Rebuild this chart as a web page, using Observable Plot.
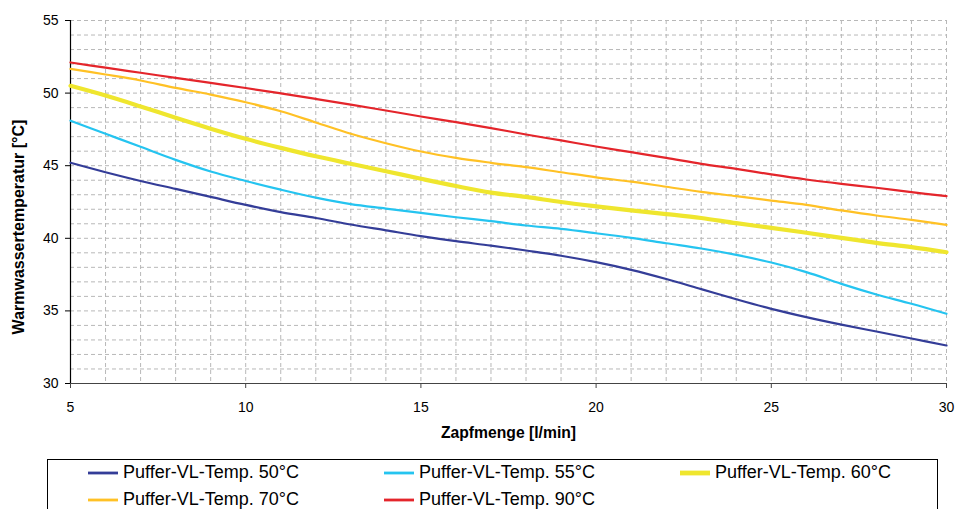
<!DOCTYPE html>
<html><head><meta charset="utf-8">
<script src="https://cdn.jsdelivr.net/npm/d3@7"></script>
<script src="https://cdn.jsdelivr.net/npm/@observablehq/plot@0.6"></script>
<style>
body{margin:0;background:#fff;font-family:"Liberation Sans",Arial,sans-serif;}
#wrap{position:relative;width:956px;height:509px;overflow:hidden;}
#chart{position:absolute;left:0;top:0;}
#legend{position:absolute;left:47px;top:459px;width:891px;height:80px;border:1px solid #000;box-sizing:border-box;}
.item{position:absolute;height:20px;font-size:18px;line-height:20px;color:#000;white-space:nowrap;}
.item svg{position:absolute;left:0;top:0;}
.item span{position:absolute;left:35px;top:0;}
</style></head><body>
<div id="wrap"><div id="chart"></div><div id="legend"></div></div>
<script>
// x values: Zapfmenge [l/min]
const flow = [5,6,7,8,9,10,11,12,13,14,15,16,17,18,19,20,21,22,23,24,25,26,27,28,29,30];
// Warmwassertemperatur [°C] per Puffer-VL-Temp.
const temp50 = [45.2,44.55,43.95,43.4,42.85,42.3,41.8,41.4,40.95,40.55,40.15,39.8,39.5,39.16,38.8,38.36,37.83,37.2,36.5,35.8,35.14,34.57,34.06,33.58,33.1,32.62];
const temp55 = [48.1,47.2,46.3,45.4,44.6,43.95,43.35,42.8,42.35,42.05,41.75,41.45,41.18,40.88,40.65,40.35,40.03,39.66,39.3,38.86,38.33,37.67,36.86,36.13,35.49,34.8];
const temp60 = [50.5,49.83,49.08,48.3,47.55,46.85,46.23,45.65,45.13,44.62,44.1,43.6,43.15,42.85,42.5,42.2,41.92,41.67,41.4,41.04,40.72,40.38,40.03,39.69,39.39,39.04];
const temp70 = [51.67,51.28,50.87,50.36,49.9,49.37,48.75,47.98,47.2,46.55,45.98,45.54,45.2,44.9,44.55,44.2,43.9,43.55,43.2,42.9,42.6,42.3,41.92,41.57,41.27,40.93];
const temp90 = [52.11,51.75,51.4,51.05,50.7,50.35,49.98,49.6,49.21,48.8,48.39,48.0,47.59,47.15,46.74,46.32,45.93,45.54,45.13,44.78,44.4,44.05,43.75,43.48,43.18,42.9];

const seriesNames = ["Puffer-VL-Temp. 50°C","Puffer-VL-Temp. 55°C","Puffer-VL-Temp. 60°C","Puffer-VL-Temp. 70°C","Puffer-VL-Temp. 90°C"];
const seriesValues = [temp50,temp55,temp60,temp70,temp90];
const seriesColors = ["#343d98","#25c4f0","#efe62e","#ffc125","#e4252b"];
const seriesWidths = [2.2,2.2,4.2,2.2,2.2];

const xTicks = [5,10,15,20,25,30];
const yTicks = [30,35,40,45,50,55];
const xGrid = d3.range(5,31,1);
const yGrid = d3.range(30,56,1);
const xTitle = "Zapfmenge [l/min]";
const yTitle = "Warmwassertemperatur [°C]";

const rows = [];
seriesNames.forEach((name,i)=>flow.forEach((x,j)=>rows.push({series:name,x,y:seriesValues[i][j]})));

const font = "'Liberation Sans', Arial, sans-serif";
const chart = Plot.plot({
  width:956, height:450,
  marginLeft:70, marginRight:10, marginTop:20, marginBottom:67,
  style:{fontFamily:font, fontSize:"14px", color:"#000", background:"transparent", overflow:"visible"},
  x:{domain:[5,30]},
  y:{domain:[30,55]},
  marks:[
    Plot.gridX(xGrid,{stroke:"#b8b8b8",strokeOpacity:1,strokeDasharray:"4,3"}),
    Plot.gridY(yGrid,{stroke:"#b8b8b8",strokeOpacity:1,strokeDasharray:"4,3"}),
    Plot.axisX(xTicks,{tickSize:5,tickPadding:14,fontSize:14,label:null,stroke:"#444"}),
    Plot.axisY(yTicks,{tickSize:5,tickPadding:7,fontSize:14,label:null,stroke:"#000"}),
    Plot.ruleX([5],{stroke:"#000",strokeWidth:1.2}),
    Plot.ruleY([30],{stroke:"#444",strokeWidth:1.2}),
    ...seriesNames.map((name,i)=>Plot.line(rows.filter(d=>d.series===name),{
      x:"x",y:"y",stroke:seriesColors[i],strokeWidth:seriesWidths[i],curve:"catmull-rom"})),
    Plot.text([xTitle],{frameAnchor:"bottom",dy:49,textAnchor:"middle",lineAnchor:"middle",fontWeight:"bold",fontSize:15.7,fill:"#000"}),
    Plot.text([yTitle],{frameAnchor:"left",dx:-52,dy:25,rotate:-90,textAnchor:"middle",lineAnchor:"middle",fontWeight:"bold",fontSize:16,fill:"#000"})
  ]
});
document.getElementById("chart").appendChild(chart);

const legend = document.getElementById("legend");
seriesNames.forEach((name,i)=>{
  const col = i%3, row = Math.floor(i/3);
  const el = document.createElement("div");
  el.className = "item";
  el.style.left = (88 - 48 + col*296) + "px";
  el.style.top = (row===0 ? 2 : 29) + "px";
  el.innerHTML = `<svg width="31" height="20"><line x1="0" x2="30" y1="11" y2="11" stroke="${seriesColors[i]}" stroke-width="${seriesWidths[i]+0.6}"/></svg><span>${name}</span>`;
  legend.appendChild(el);
});
</script>
</body></html>
